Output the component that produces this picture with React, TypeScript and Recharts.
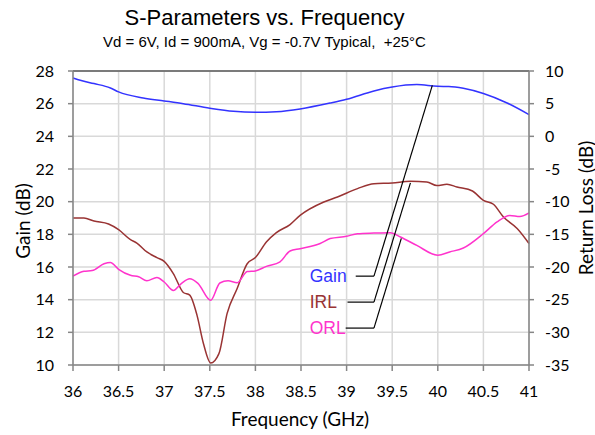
import React from 'react'
import {
  LineChart, Line, XAxis, YAxis, CartesianGrid, ReferenceLine, ReferenceDot,
} from 'recharts'

// frequency ticks (GHz)
const freqTicks = [36, 36.5, 37, 37.5, 38, 38.5, 39, 39.5, 40, 40.5, 41]
const gainTicks = [10, 12, 14, 16, 18, 20, 22, 24, 26, 28]
const rlTicks = [-35, -30, -25, -20, -15, -10, -5, 0, 5, 10]

// Gain (dB), left axis
const gainFreq = [36.0, 36.1, 36.23, 36.41, 36.5, 36.77, 37.0, 37.21, 37.5, 37.76, 38.0, 38.23, 38.49, 38.82, 39.0, 39.3, 39.5, 39.77, 40.0, 40.12, 40.28, 40.5, 40.76, 41.0]
const gainDb = [27.57, 27.4, 27.23, 26.96, 26.72, 26.35, 26.17, 26.0, 25.72, 25.53, 25.47, 25.51, 25.68, 26.04, 26.27, 26.78, 27.02, 27.17, 27.06, 27.05, 26.94, 26.62, 26.04, 25.33]

// Input return loss (dB), right axis
const irlFreq = [36.0, 36.12, 36.23, 36.39, 36.5, 36.63, 36.7, 36.81, 36.92, 37.0, 37.1, 37.21, 37.28, 37.36, 37.43, 37.51, 37.6, 37.69, 37.8, 37.91, 38.0, 38.12, 38.23, 38.38, 38.49, 38.75, 38.9, 39.12, 39.3, 39.5, 39.7, 39.88, 39.99, 40.1, 40.21, 40.38, 40.5, 40.61, 40.72, 40.87, 41.0]
const irlDb = [-12.5, -12.5, -12.96, -13.42, -14.28, -15.81, -16.33, -17.7, -18.56, -19.13, -21.0, -23.9, -24.3, -27.4, -31.7, -34.7, -33.26, -27.1, -23.3, -19.5, -18.56, -16.17, -14.74, -13.5, -12.1, -10.05, -9.28, -8.0, -7.24, -7.14, -6.88, -6.99, -7.54, -7.34, -7.75, -8.37, -9.8, -10.4, -12.35, -14.1, -16.4]

// Output return loss (dB), right axis
const orlFreq = [36.0, 36.12, 36.21, 36.34, 36.41, 36.5, 36.63, 36.72, 36.81, 36.92, 37.0, 37.1, 37.19, 37.28, 37.37, 37.51, 37.61, 37.7, 37.8, 37.91, 38.0, 38.12, 38.27, 38.38, 38.49, 38.71, 38.82, 39.0, 39.12, 39.3, 39.48, 39.59, 39.77, 40.0, 40.13, 40.28, 40.5, 40.65, 40.79, 40.9, 41.0]
const orlDb = [-21.4, -20.66, -20.55, -19.5, -19.3, -20.35, -21.27, -21.5, -22.1, -21.6, -22.3, -23.6, -22.5, -21.8, -22.5, -25.1, -22.45, -22.1, -22.4, -20.7, -20.6, -19.9, -19.2, -17.55, -17.2, -16.4, -15.65, -15.3, -14.9, -14.8, -14.74, -15.4, -16.7, -18.2, -17.7, -17.1, -14.9, -13.1, -12.1, -12.26, -11.7]

// callout labels: [name, colour, label freq, label gain-axis y, elbow freq, end freq, end gain-axis y]
const callouts: [string, string, number, number, number, number, number, number][] = [
  ['Gain', '#3333ff', 38.54, 15.44, 39.1, 39.3, 39.94, 27.12],
  ['IRL', '#993333', 38.54, 13.85, 39.01, 39.3, 39.7, 21.15],
  ['ORL', '#ff33cc', 38.54, 12.26, 38.99, 39.3, 39.6, 17.75],
]

const zip = (f: number[], v: number[]) => f.map((x, i) => ({ f: x, v: v[i] }))

const gainData = zip(gainFreq, gainDb)
const irlData = zip(irlFreq, irlDb)
const orlData = zip(orlFreq, orlDb)

const tickFont = { fontFamily: 'Lato', fontSize: 16, fill: '#000' }
const axisGray = '#868686'

const App = () => {
  return (
    <div style={{ position: 'absolute', left: 0, top: 0, width: 595, height: 435, background: '#fff' }}>
      <div style={{
        position: 'absolute', left: 0, top: 5, width: 529, textAlign: 'center',
        fontFamily: 'Liberation Sans', fontSize: 22, lineHeight: '26px', color: '#000',
      }}>
        S-Parameters vs. Frequency
      </div>
      <div style={{
        position: 'absolute', left: 0, top: 33, width: 529, textAlign: 'center',
        fontFamily: 'Liberation Sans', fontSize: 15, lineHeight: '18px', color: '#000', whiteSpace: 'pre',
      }}>
        {'Vd = 6V, Id = 900mA, Vg = -0.7V Typical,  +25°C'}
      </div>
      <LineChart
        width={595}
        height={435}
        margin={{ top: 71, right: 0, left: 0, bottom: 0 }}
        style={{ position: 'absolute', left: 0, top: 0 }}
      >
        <CartesianGrid yAxisId="left" stroke="#d9d9d9" strokeWidth={1.5} />
        <XAxis
          dataKey="f"
          type="number"
          domain={[36, 41]}
          ticks={freqTicks}
          height={70}
          tickSize={6}
          tickMargin={15}
          tick={tickFont}
          stroke={axisGray}
          strokeWidth={1.5}
          allowDuplicatedCategory={false}
        />
        <YAxis
          yAxisId="left"
          domain={[10, 28]}
          ticks={gainTicks}
          width={73}
          tickSize={5}
          tickMargin={14}
          tick={tickFont}
          stroke={axisGray}
          strokeWidth={1.5}
        />
        <YAxis
          yAxisId="right"
          orientation="right"
          domain={[-35, 10]}
          ticks={rlTicks}
          width={66}
          tickSize={5}
          tickMargin={11}
          tick={{ ...tickFont, textAnchor: 'start' }}
          stroke={axisGray}
          strokeWidth={1.5}
        />
        <ReferenceLine yAxisId="left" y={28} stroke="#595959" strokeWidth={1.5} />
        <Line data={gainData} dataKey="v" yAxisId="left" type="monotone" stroke="#3333ff"
          strokeWidth={1.5} dot={false} isAnimationActive={false} />
        <Line data={irlData} dataKey="v" yAxisId="right" type="monotone" stroke="#993333"
          strokeWidth={1.5} dot={false} isAnimationActive={false} />
        <Line data={orlData} dataKey="v" yAxisId="right" type="monotone" stroke="#ff33cc"
          strokeWidth={1.5} dot={false} isAnimationActive={false} />
        {callouts.map(([name, color, lx, ly, ex, bx, tx, ty]) => (
          <React.Fragment key={name}>
            <ReferenceLine yAxisId="left" stroke="#000" strokeWidth={1.2}
              segment={[{ x: ex, y: ly }, { x: bx, y: ly }]} />
            <ReferenceLine yAxisId="left" stroke="#000" strokeWidth={1.2}
              segment={[{ x: bx, y: ly }, { x: tx, y: ty }]} />
            <ReferenceDot yAxisId="left" x={lx} y={ly} r={0.01} fill="none" stroke="none"
              label={{ value: name, position: 'right', fill: color, fontSize: 17.5, fontFamily: 'Liberation Sans' }} />
          </React.Fragment>
        ))}
      </LineChart>
      <div style={{
        position: 'absolute', left: 22, top: 221, transform: 'translate(-50%, -50%) rotate(-90deg)',
        fontFamily: 'Lato', fontSize: 19, lineHeight: '1', whiteSpace: 'nowrap', color: '#000',
      }}>
        Gain (dB)
      </div>
      <div style={{
        position: 'absolute', left: 585, top: 208, transform: 'translate(-50%, -50%) rotate(-90deg)',
        fontFamily: 'Lato', fontSize: 19, lineHeight: '1', whiteSpace: 'nowrap', color: '#000',
      }}>
        Return Loss (dB)
      </div>
      <div style={{
        position: 'absolute', left: 300, top: 418, transform: 'translate(-50%, -50%)',
        fontFamily: 'Lato', fontSize: 19, lineHeight: '1', whiteSpace: 'nowrap', color: '#000',
      }}>
        Frequency (GHz)
      </div>
    </div>
  )
}

export default App
